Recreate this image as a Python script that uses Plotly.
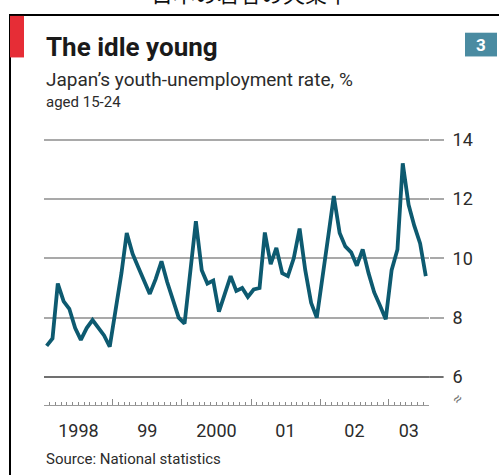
import plotly.graph_objects as go

# Monthly youth-unemployment rate (%), Japan, aged 15-24, Jan 1998 - Jul 2003
start_year = 1998
rate = [
    7.05, 7.3, 9.15, 8.55, 8.3, 7.65, 7.25, 7.65, 7.92, 7.65, 7.4, 7.02,   # 1998
    8.2, 9.5, 10.85, 10.15, 9.7, 9.2, 8.8, 9.3, 9.9, 9.2, 8.6, 8.0,       # 1999
    7.8, 9.5, 11.25, 9.6, 9.15, 9.25, 8.2, 8.8, 9.4, 8.9, 9.0, 8.7,       # 2000
    8.95, 9.0, 10.87, 9.8, 10.35, 9.5, 9.4, 10.0, 11.0, 9.6, 8.5, 8.0,    # 2001
    9.3, 10.8, 12.1, 10.85, 10.4, 10.2, 9.75, 10.3, 9.5, 8.85, 8.4, 7.95, # 2002
    9.6, 10.3, 13.2, 11.8, 11.1, 10.5, 9.4,                               # 2003
]
months = [f"{start_year + i // 12}-{i % 12 + 1:02d}-15" for i in range(len(rate))]

y_ticks = [6, 8, 10, 12, 14]
year_label_dates = ["1998-07-02", "1999-07-02", "2000-07-02", "2001-07-02",
                    "2002-07-02", "2003-04-16"]
year_labels = ["1998", "99", "2000", "01", "02", "03"]

W, H = 499, 475


def px(x):
    return x / W


def py(y):
    return 1 - y / H


LINE = "#0d5a70"
GRID = "#a9a9a9"
TEXT = "#2b2b2b"
FONT = "Roboto"

fig = go.Figure()
fig.add_trace(go.Scatter(
    x=months, y=rate, mode="lines",
    line=dict(color=LINE, width=3.8),
    hoverinfo="skip", xaxis="x", yaxis="y",
))
# transparent copy so the labelled year axis is drawn
fig.add_trace(go.Scatter(
    x=months, y=rate, mode="lines", opacity=0,
    line=dict(color=LINE, width=1),
    hoverinfo="skip", xaxis="x2", yaxis="y",
))

x_dom = [px(44), px(429)]
y_dom = [py(404), py(130)]
x_range = ["1998-01-01", "2003-08-01"]

fig.update_layout(
    width=W, height=H,
    margin=dict(l=0, r=0, t=0, b=0),
    paper_bgcolor="white", plot_bgcolor="white",
    showlegend=False, hovermode=False,
    font=dict(family=FONT, color=TEXT),
    xaxis=dict(
        type="date", domain=x_dom, range=x_range, anchor="y",
        showgrid=False, zeroline=False,
        showline=True, linecolor="#9a9a9a", linewidth=1,
        ticks="inside", ticklen=6, tickwidth=1, tickcolor="#8a8a8a",
        tick0="1998-01-01", dtick="M12", showticklabels=False,
        minor=dict(ticks="inside", ticklen=3, tickwidth=1, tickcolor="#8a8a8a",
                   dtick="M1", tick0="1998-01-01", showgrid=False),
    ),
    xaxis2=dict(
        type="date", overlaying="x", range=x_range, anchor="y", side="bottom",
        showgrid=False, zeroline=False, showline=False, ticks="",
        tickmode="array", tickvals=year_label_dates, ticktext=year_labels,
        tickfont=dict(family=FONT, size=18, color=TEXT),
        ticklabelstandoff=13,
    ),
    yaxis=dict(
        domain=y_dom, range=[6 - 28 / 30, 14 + 6 / 30], anchor="x", side="right",
        tickmode="array", tickvals=y_ticks,
        showgrid=True, gridcolor=GRID, gridwidth=2,
        zeroline=False, showline=False,
        ticks="outside", ticklen=14, tickwidth=2, tickcolor=GRID,
        tickfont=dict(family=FONT, size=18, color=TEXT),
        ticklabelstandoff=5,
    ),
)

shapes = [
    # frame: top and left rules
    dict(type="line", xref="paper", yref="paper", x0=px(9), x1=px(499),
         y0=py(10), y1=py(10), line=dict(color="black", width=2)),
    dict(type="line", xref="paper", yref="paper", x0=px(10), x1=px(10),
         y0=py(9), y1=py(475), line=dict(color="black", width=2)),
    # red tab
    dict(type="rect", xref="paper", yref="paper", x0=px(10), x1=px(24),
         y0=py(53), y1=py(11), fillcolor="#e62d36", line=dict(width=0)),
    # chart number box
    dict(type="rect", xref="paper", yref="paper", x0=px(465), x1=px(497),
         y0=py(52), y1=py(28), fillcolor="#4a8ba1", line=dict(width=0)),
    # darker bottom rule at 6%
    dict(type="line", xref="paper", yref="y", x0=px(44), x1=px(443),
         y0=6, y1=6, line=dict(color="#5e5e5e", width=1.6), layer="above"),
]
fig.update_layout(shapes=shapes)

annotations = [
    dict(text="日本の若者の失業率", x=px(250), y=py(5), xanchor="center", yanchor="bottom",
         font=dict(family="Noto Sans CJK JP", size=22, color="#111")),
    dict(text="<b>The idle young</b>", x=px(44), y=py(42), xanchor="left", yanchor="middle",
         font=dict(family=FONT, size=26, color="#1a1a1a")),
    dict(text="<b>3</b>", x=px(481), y=py(40), xanchor="center", yanchor="middle",
         font=dict(family=FONT, size=17, color="white")),
    dict(text="Japan’s youth-unemployment rate, %", x=px(44), y=py(75),
         xanchor="left", yanchor="middle", font=dict(family=FONT, size=19, color=TEXT)),
    dict(text="aged 15-24", x=px(44), y=py(98), xanchor="left", yanchor="middle",
         font=dict(family=FONT, size=15, color=TEXT)),
    dict(text="Source: National statistics", x=px(44), y=py(459), xanchor="left",
         yanchor="middle", font=dict(family=FONT, size=15, color=TEXT)),
    dict(text="≈", x=px(457), y=py(398), xanchor="center", yanchor="middle",
         textangle=-50, font=dict(family=FONT, size=15, color="#777")),
]
for a in annotations:
    a.update(xref="paper", yref="paper", showarrow=False)
fig.update_layout(annotations=annotations)

fig.write_html("out.html")
